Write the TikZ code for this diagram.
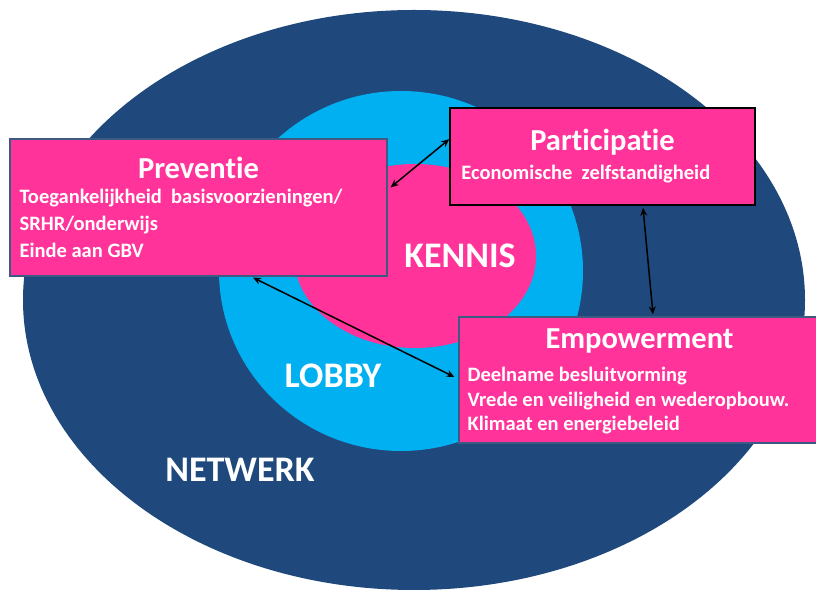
\documentclass[tikz,border=0pt]{standalone}
\usepackage{fontspec}
\setmainfont{Carlito}[Ligatures=NoCommon]
\usetikzlibrary{arrows.meta,positioning}
\definecolor{netblue}{RGB}{31,73,125}
\definecolor{lobbyblue}{RGB}{0,176,240}
\definecolor{kennispink}{RGB}{255,51,153}
\definecolor{boxedge}{RGB}{60,90,130}
\tikzset{
    box/.style={draw=boxedge, line width=1.2pt, fill=kennispink, inner sep=0pt},
    boxtitle/.style={text=white, font=\bfseries\fontsize{30.5}{32}\selectfont},
    boxtext/.style={text=white, inner sep=0pt, anchor=north west, align=left},
    ringtext/.style={text=white, font=\bfseries\fontsize{36}{38}\selectfont},
    link/.style={{Stealth[length=8pt,width=7pt]}-{Stealth[length=8pt,width=7pt]}, line width=1.5pt, black},
}
\begin{document}
\begin{tikzpicture}[x=1pt, y=1pt]
    \useasboundingbox (0,0) rectangle (816,591);
    \fill[netblue] (414,291) ellipse [x radius=391, y radius=290];
    \fill[lobbyblue] (401,320) ellipse [x radius=182, y radius=180];
    \fill[kennispink] (415,335) ellipse [x radius=121, y radius=92];

    \node[ringtext] (kennis) at (460,335) {KENNIS};
    \node[ringtext] (lobby) at (333,215) {LOBBY};
    \node[ringtext] (netwerk) at (240,121) {NETWERK};

    \node[box, minimum width=377pt, minimum height=137pt] (prev) at (198.5,383.5) {};
    \node[box, draw=black, line width=1.6pt, minimum width=305pt, minimum height=97pt] (part) at (602.5,434.5) {};
    \node[box, minimum width=361pt, minimum height=126pt] (emp) at (639.5,211) {};

    \node[boxtitle] (prevtitle) at ([yshift=-30pt]prev.north) {Preventie};
    \node[boxtitle] (parttitle) at ([yshift=-35pt]part.north) {Participatie};
    \node[boxtitle] (emptitle) at ([yshift=-25pt]emp.north) {Empowerment};

    \node[boxtext, font=\bfseries\fontsize{20.5}{27}\selectfont] (prevtext) at ([shift={(10,-51)}]prev.north west)
        {Toegankelijkheid\ \ basisvoorzieningen/\\SRHR/onderwijs\\Einde aan GBV};
    \node[boxtext, font=\bfseries\fontsize{20.5}{27}\selectfont] (parttext) at ([shift={(12,-58)}]part.north west)
        {Economische\ \ zelfstandigheid};
    \node[boxtext, font=\bfseries\fontsize{20.5}{24.5}\selectfont] (emptext) at ([shift={(9,-51)}]emp.north west)
        {Deelname besluitvorming\\Vrede en veiligheid en wederopbouw.\\Klimaat en energiebeleid};

    \draw[link] ([shift={(3,-49)}]prev.north east) -- ([shift={(0,-32)}]part.north west);
    \draw[link] ([shift={(40.5,-2)}]part.south) -- ([shift={(13.5,2)}]emp.north);
    \draw[link] ([shift={(54.5,-1)}]prev.south) -- ([shift={(-4,3)}]emp.west);
\end{tikzpicture}
\end{document}
